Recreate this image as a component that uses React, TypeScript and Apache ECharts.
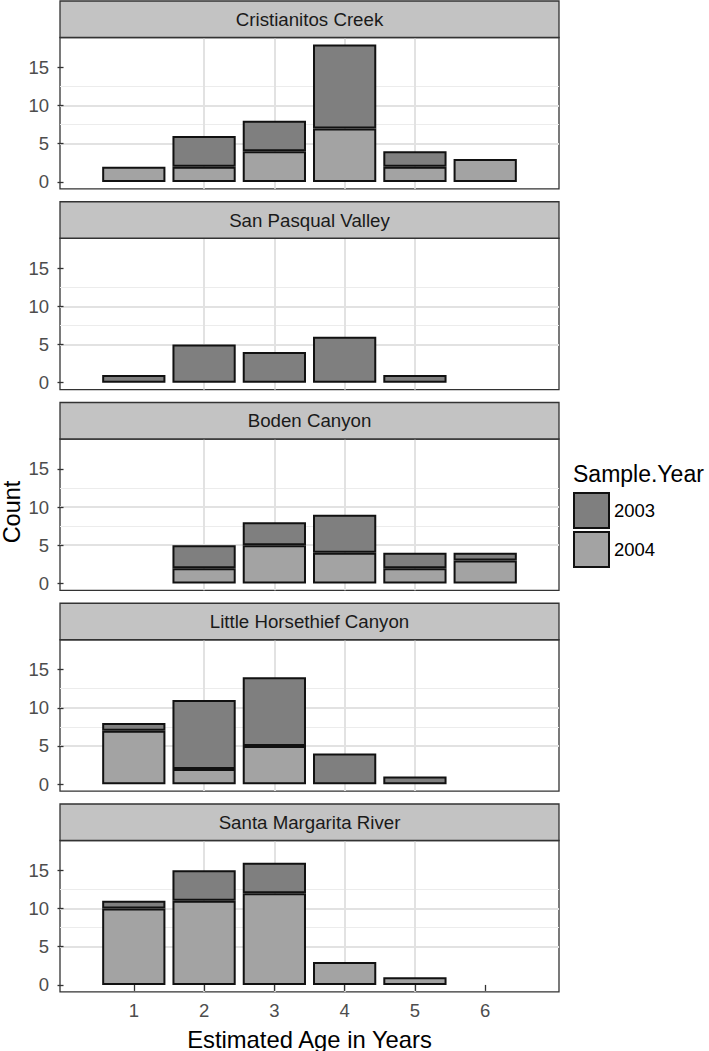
import React, { useEffect, useRef } from "react";
import * as echarts from "echarts";

// ---- data ----
const ages = [1, 2, 3, 4, 5, 6];
const sites = [
  "Cristianitos Creek",
  "San Pasqual Valley",
  "Boden Canyon",
  "Little Horsethief Canyon",
  "Santa Margarita River",
];
const years = ["2003", "2004"];

const cristianitos2003 = [0, 4, 4, 11, 2, 0];
const cristianitos2004 = [2, 2, 4, 7, 2, 3];
const sanPasqual2003 = [1, 5, 4, 6, 1, 0];
const sanPasqual2004 = [0, 0, 0, 0, 0, 0];
const boden2003 = [0, 3, 3, 5, 2, 1];
const boden2004 = [0, 2, 5, 4, 2, 3];
const littleHorsethief2003 = [1, 9, 9, 4, 1, 0];
const littleHorsethief2004 = [7, 2, 5, 0, 0, 0];
const santaMargarita2003 = [1, 4, 4, 0, 0, 0];
const santaMargarita2004 = [10, 11, 12, 3, 1, 0];

const counts2003 = [cristianitos2003, sanPasqual2003, boden2003, littleHorsethief2003, santaMargarita2003];
const counts2004 = [cristianitos2004, sanPasqual2004, boden2004, littleHorsethief2004, santaMargarita2004];

const yTicks = [0, 5, 10, 15];
const yMinorTicks = [2.5, 7.5, 12.5, 17.5];
const xTicks = ages;

// ---- layout / style ----
const W = 709;
const H = 1051;
const FONT = '"Liberation Sans", Arial, Helvetica, sans-serif';
const plotLeft = 60;
const plotWidth = 499;
const firstTop = 1;
const panelStep = 200.75;
const stripH = 36.5;
const plotH = 151.3;
const yMin = -0.9;
const yMax = 18.9;
const xMin = -0.05;
const xMax = 7.05;
const barW = (0.9 * plotWidth) / (xMax - xMin);
const color2003 = "#7f7f7f";
const color2004 = "#a3a3a3";
const stripFill = "#c3c3c3";
const borderCol = "#333333";

// count first, age second (encode maps them), so the count dimension is stacked
function toData(vals: number[]) {
  return ages.map((a, i) => [vals[i] > 0 ? vals[i] : "-", a]);
}

export default function App() {
  const ref = useRef<HTMLDivElement>(null);

  useEffect(() => {
    if (!ref.current) return;
    const chart = echarts.init(ref.current, null, { renderer: "svg" });

    const grids: any[] = [];
    const xAxes: any[] = [];
    const yAxes: any[] = [];
    const series: any[] = [];
    const graphics: any[] = [];

    sites.forEach((site, i) => {
      const stripTop = firstTop + i * panelStep;
      const plotTop = stripTop + stripH;
      const last = i === sites.length - 1;

      grids.push({
        left: plotLeft,
        top: plotTop,
        width: plotWidth,
        height: plotH,
        show: true,
        backgroundColor: "#ffffff",
        borderColor: borderCol,
        borderWidth: 1.3,
        containLabel: false,
      });

      xAxes.push({
        type: "value",
        gridIndex: i,
        min: xMin,
        max: xMax,
        axisLine: { show: false },
        axisTick: {
          show: last,
          customValues: xTicks,
          length: 6,
          lineStyle: { color: borderCol, width: 1.3 },
        },
        axisLabel: {
          show: last,
          customValues: xTicks,
          margin: 9,
          color: "#4d4d4d",
          fontSize: 18.5,
          fontFamily: FONT,
        },
        splitLine: {
          show: true,
          showMinLine: false,
          showMaxLine: false,
          lineStyle: { color: "#e2e2e2", width: 2 },
        },
      });

      yAxes.push({
        type: "value",
        gridIndex: i,
        position: "left",
        min: yMin,
        max: yMax,
        axisLine: { show: false },
        axisTick: {
          show: true,
          customValues: yTicks,
          length: 6,
          lineStyle: { color: borderCol, width: 1.3 },
        },
        axisLabel: {
          show: true,
          customValues: yTicks,
          margin: 11,
          color: "#4d4d4d",
          fontSize: 18.5,
          fontFamily: FONT,
        },
        splitLine: {
          show: true,
          showMinLine: false,
          showMaxLine: false,
          lineStyle: { color: "#e2e2e2", width: 2 },
        },
      });
      yAxes.push({
        type: "value",
        gridIndex: i,
        position: "left",
        min: yMin,
        max: yMax,
        axisLine: { show: false },
        axisTick: { show: false, customValues: yMinorTicks },
        axisLabel: { show: false, customValues: yMinorTicks },
        splitLine: {
          show: true,
          showMinLine: false,
          showMaxLine: false,
          lineStyle: { color: "#ececec", width: 1.2 },
        },
      });

      series.push({
        type: "bar",
        name: "2004",
        xAxisIndex: i,
        yAxisIndex: i * 2,
        stack: "s" + i,
        barWidth: barW,
        encode: { x: 1, y: 0 },
        data: toData(counts2004[i]),
        itemStyle: { color: color2004, borderColor: "#111", borderWidth: 2 },
        emphasis: { disabled: true },
      });
      series.push({
        type: "bar",
        name: "2003",
        xAxisIndex: i,
        yAxisIndex: i * 2,
        stack: "s" + i,
        barWidth: barW,
        encode: { x: 1, y: 0 },
        data: toData(counts2003[i]),
        itemStyle: { color: color2003, borderColor: "#111", borderWidth: 2 },
        emphasis: { disabled: true },
      });

      graphics.push({
        type: "rect",
        z: 10,
        shape: { x: plotLeft, y: stripTop, width: plotWidth, height: stripH },
        style: { fill: stripFill, stroke: borderCol, lineWidth: 1.3 },
      });
      graphics.push({
        type: "text",
        z: 11,
        x: plotLeft + plotWidth / 2,
        y: stripTop + stripH / 2,
        style: {
          text: site,
          fill: "#1a1a1a",
          fontSize: 18.7,
          fontFamily: FONT,
          align: "center",
          verticalAlign: "middle",
        },
      });
    });

    graphics.push({
      type: "text",
      x: plotLeft + plotWidth / 2,
      y: 1039,
      style: {
        text: "Estimated Age in Years",
        fill: "#000",
        fontSize: 23.8,
        fontFamily: FONT,
        align: "center",
        verticalAlign: "middle",
      },
    });
    graphics.push({
      type: "text",
      x: 12,
      y: 512,
      rotation: Math.PI / 2,
      style: {
        text: "Count",
        fill: "#000",
        fontSize: 23.5,
        fontFamily: FONT,
        align: "center",
        verticalAlign: "middle",
      },
    });
    graphics.push({
      type: "text",
      x: 573,
      y: 474,
      style: {
        text: "Sample.Year",
        fill: "#000",
        fontSize: 23,
        fontFamily: FONT,
        align: "left",
        verticalAlign: "middle",
      },
    });

    chart.setOption({
      animation: false,
      backgroundColor: "#ffffff",
      grid: grids,
      xAxis: xAxes,
      yAxis: yAxes,
      series,
      legend: {
        data: years,
        orient: "vertical",
        left: 573,
        top: 492,
        padding: 0,
        itemWidth: 35,
        itemHeight: 35,
        itemGap: 2,
        icon: "rect",
        selectedMode: false,
        textStyle: { fontSize: 18.5, color: "#000", fontFamily: FONT },
      },
      graphic: graphics,
    });

    return () => chart.dispose();
  }, []);

  return (
    <div
      ref={ref}
      style={{ position: "fixed", left: 0, top: 0, width: W, height: H }}
    />
  );
}
